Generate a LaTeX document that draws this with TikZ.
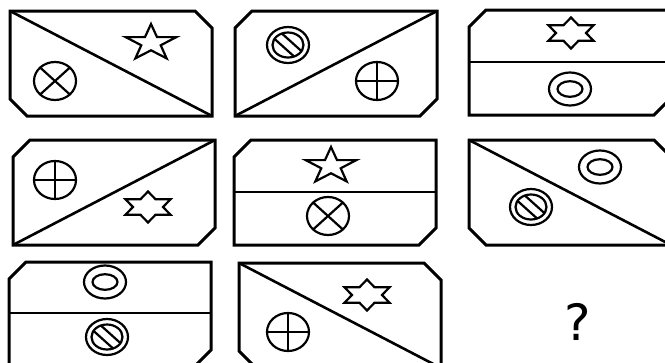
\documentclass[tikz,border=0pt]{standalone}
\usepackage{fontspec}
\newfontfamily\qfont{DejaVu Sans}

\begin{document}
\begin{tikzpicture}[x=1pt, y=-1pt,
    frame/.style={line width=3pt, line join=miter},
    split/.style={line width=2.6pt},
    sym/.style={line width=2.2pt, line join=miter},
    % cards with two cut corners
    cardTR/.pic={\draw[frame] (0,0) -- (185,0) -- (202,17) -- (202,105) -- (17,105) -- (0,88) -- cycle;},
    cardTL/.pic={\draw[frame] (17,0) -- (202,0) -- (202,88) -- (185,105) -- (0,105) -- (0,17) -- cycle;},
    % symbols
    xcirc/.pic={\draw[sym] (0,0) ellipse [x radius=21, y radius=19];
      \draw[sym] (-14.8,-13.4) -- (14.8,13.4) (-14.8,13.4) -- (14.8,-13.4);},
    pcirc/.pic={\draw[sym] (0,0) ellipse [x radius=21, y radius=19];
      \draw[sym] (-21,0) -- (21,0) (0,-19) -- (0,19);},
    ring/.pic={\draw[sym] (0,0) ellipse [x radius=21, y radius=16.5];
      \draw[sym] (0,0) ellipse [x radius=12.5, y radius=7.8];},
    nogo/.pic={\draw[sym] (0,0) ellipse [x radius=21, y radius=18];
      \draw[sym] (0,0) ellipse [x radius=15.5, y radius=12.5];
      \begin{scope}
        \clip (0,0) ellipse [x radius=15.5, y radius=12.5];
        \draw[sym] (-20,-24) -- (20,12) (-20,-12) -- (20,24);
      \end{scope}},
    fivestar/.pic={\draw[sym, xscale=1.4, yscale=-1] (90:19)
      \foreach \a in {162,234,306,378} { -- ({\a-36}:7.3) -- (\a:19) } -- (54:7.3) -- cycle;},
    sixstar/.pic={\draw[sym, xscale=1.68, yscale=-1] (90:15.5)
      \foreach \a in {150,210,270,330,390} { -- ({\a-30}:8.95) -- (\a:15.5) } -- (60:8.95) -- cycle;}
  ]
  \useasboundingbox (0,0) rectangle (665,362);
  \clip (0,0) rectangle (665,362);

  % Row 1
  \begin{scope}[shift={(10,11)}]
    \pic {cardTR};
    \draw[split] (0,0) -- (202,105);
    \pic at (141,32) {fivestar};
    \pic at (45,70) {xcirc};
  \end{scope}
  \begin{scope}[shift={(235,11)}]
    \pic {cardTL};
    \draw[split] (0,105) -- (202,0);
    \pic at (53,34) {nogo};
    \pic at (142,70) {pcirc};
  \end{scope}
  \begin{scope}[shift={(469,10)}]
    \pic {cardTL};
    \draw[split] (0,52) -- (202,52);
    \pic at (102,23) {sixstar};
    \pic at (101,79) {ring};
  \end{scope}

  % Row 2
  \begin{scope}[shift={(13,140)}]
    \pic {cardTL};
    \draw[split] (0,105) -- (202,0);
    \pic at (42,40) {pcirc};
    \pic at (135,67) {sixstar};
  \end{scope}
  \begin{scope}[shift={(234,140)}]
    \pic {cardTL};
    \draw[split] (0,52) -- (202,52);
    \pic at (97,26) {fivestar};
    \pic at (94,76) {xcirc};
  \end{scope}
  \begin{scope}[shift={(469,140)}]
    \pic {cardTR};
    \draw[split] (0,0) -- (202,105);
    \pic at (131,27) {ring};
    \pic at (62,67) {nogo};
  \end{scope}

  % Row 3
  \begin{scope}[shift={(9,262)}]
    \pic {cardTL};
    \draw[split] (0,51) -- (202,51);
    \pic at (96,20) {ring};
    \pic at (98,75) {nogo};
  \end{scope}
  \begin{scope}[shift={(239,263)}]
    \pic {cardTR};
    \draw[split] (0,0) -- (202,105);
    \pic at (128,32) {sixstar};
    \pic at (49,69) {pcirc};
  \end{scope}

  \node[font=\qfont\fontsize{50}{50}\selectfont] (ask) at (578,322) {?};
\end{tikzpicture}
\end{document}
